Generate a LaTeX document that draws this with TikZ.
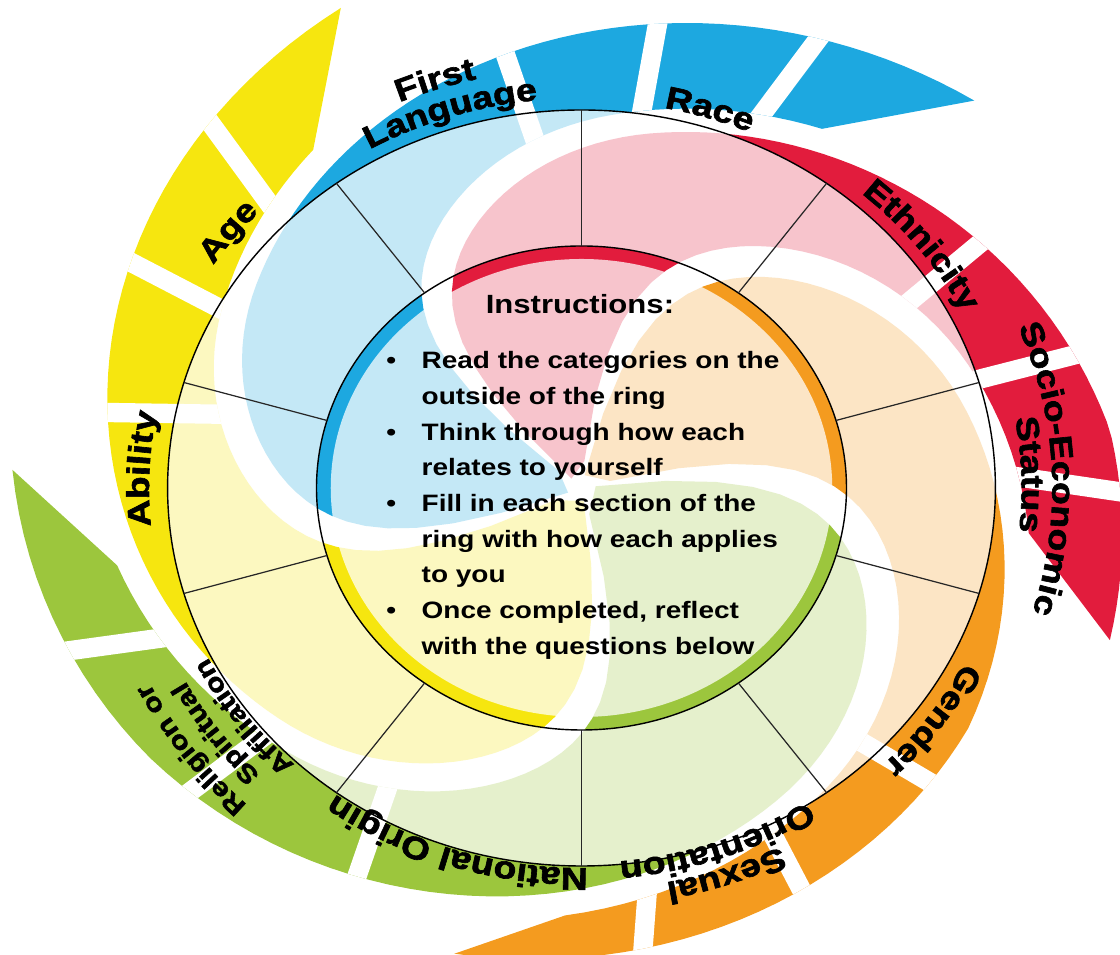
\documentclass[tikz,border=0pt]{standalone}
\usepackage{fontspec}
\usepackage{tikz}
\usetikzlibrary{decorations.text}

\newfontfamily\labfont[FakeStretch=1.18,FakeBold=2]{Liberation Sans Bold}
\newfontfamily\bodyfont[FakeStretch=1.18]{Liberation Sans Bold}

\definecolor{blueArm}{HTML}{1DA8E0}
\definecolor{redArm}{HTML}{E21C3D}
\definecolor{orangeArm}{HTML}{F49B1F}
\definecolor{greenArm}{HTML}{9CC63D}
\definecolor{yellowArm}{HTML}{F6E60F}

% radius of an arm's outer edge, t degrees in from its tip;
% #2/#3 pull the tip in by #2, fading out over the first #3 degrees
\pgfmathdeclarefunction{armr}{3}{%
  \pgfmathparse{528-1.68*#1-0.028*max(#1-100,0)*max(#1-100,0)-165*exp(max((#1-156)/5,-9))-#2*max(0,1-#1/#3)}%
}

\tikzset{
  haze/.style={fill=white, fill opacity=0.74},
  ringline/.style={draw=black, line width=0.8pt},
  spoke/.style={draw=black!85, line width=0.7pt},
  cutline/.style={draw=white, line width=11pt},
  title/.style={font=\bodyfont\fontsize{15}{18}\selectfont, inner sep=0pt},
  steps/.style={font=\bodyfont\fontsize{13.5}{20.3}\selectfont, inner sep=0pt},
  labtext/.style={decorate, decoration={text along path, text align=center,
      text={|\labfont\fontsize{18}{18}\selectfont|#1}}},
  smalltext/.style={decorate, decoration={text along path, text align=center,
      text={|\labfont\fontsize{14.5}{14.5}\selectfont|#1}}}
}

% arm outline: tip angle, stretch, next arm's tip angle and stretch,
% first t of the inner edge, tip pull-in and its fade length
\newcommand\armpath[7]{%
  ({#1}:{528-#6})
  \foreach \t in {2,4,...,156} { -- ({#1+#2*\t}:{armr(\t,#6,#7)}) }
  \foreach \t in {156,154,...,#5} { -- ({#3+#4*(\t+6)}:{armr(\t,0,30)+14}) }
  -- cycle}

\newcommand\arm[8]{%
  \fill[#1] \armpath{#2}{#3}{#4}{#5}{#6}{#7}{#8};
  \begin{scope}
    \clip \armpath{#2}{#3}{#4}{#5}{#6}{#7}{#8};
    \foreach \ta/\tb in {46.2/54.6,35.6/34.7,26.3/16.4}
      \draw[cutline] ({#2+#3*\ta}:250) -- ({#2+#3*\tb}:560);
  \end{scope}}

\newcommand\arclabel[4][labtext]{%
  \path[#1={#2}] ({#3+45}:#4) arc[start angle={#3+45}, end angle={#3-45}, radius=#4];}

\begin{document}
\begin{tikzpicture}[x=0.02cm, y=0.02cm]
  \useasboundingbox (-581.5,-467) rectangle (538.5,488);

  \begin{scope}[xscale=1.095]
    % the five spiral arms
    \arm{blueArm}{47.2}{0.984}{-17.5}{0.975}{72}{0}{30}
    \arm{redArm}{-17.5}{0.975}{-104}{1.163}{78}{22}{25}
    \arm{orangeArm}{-104}{1.163}{-182}{1.216}{68}{48}{60}
    \arm{greenArm}{-182}{1.216}{-245.4}{1.052}{66}{8}{30}
    \arm{yellowArm}{114.6}{1.052}{47.2}{0.984}{74}{0}{30}

    % washed-out ring and middle
    \fill[haze, even odd rule] (0,0) circle (378) (0,0) circle (242);
    \fill[haze] (0,0) circle (229);

    \draw[ringline] (0,0) circle (378);
    \draw[ringline] (0,0) circle (242);
    \foreach \a in {90,126.3,163.8,196.2,233.7,270,306.3,343.8,16.2,53.7}
      \draw[spoke] (\a:242) -- (\a:378);

    % category names round the ring
    \arclabel{First}{109}{420}
    \arclabel{Language}{108.5}{390}
    \arclabel{Race}{72}{387.5}
    \arclabel{Ethnicity}{36.7}{390}
    \arclabel{Socio-Economic}{2.5}{430}
    \arclabel{Status}{1.8}{402}
    \arclabel{Gender}{-34.6}{390.5}
    \arclabel{Sexual}{-70.3}{402}
    \arclabel{Orientation}{-70}{375}
    \arclabel{National Origin}{-108.3}{380}
    \arclabel[smalltext]{Religion or}{-145}{440}
    \arclabel[smalltext]{Spiritual}{-145}{410}
    \arclabel[smalltext]{Affiliation}{-144.7}{381}
    \arclabel{Age}{142.9}{403.5}
    \arclabel{Ability}{177.4}{395}

    \node[title, anchor=base] (title) at (-1.4,174.4) {Instructions:};
    \node[steps, anchor=base west] (steps) at (-178.5,119) {%
      \begin{tabular}[t]{@{}l@{\hspace{0.51cm}}l@{}}
        \textbullet & Read the categories on the\\
                    & outside of the ring\\
        \textbullet & Think through how each\\
                    & relates to yourself\\
        \textbullet & Fill in each section of the\\
                    & ring with how each applies\\
                    & to you\\
        \textbullet & Once completed, reflect\\
                    & with the questions below
      \end{tabular}};
  \end{scope}
\end{tikzpicture}
\end{document}
